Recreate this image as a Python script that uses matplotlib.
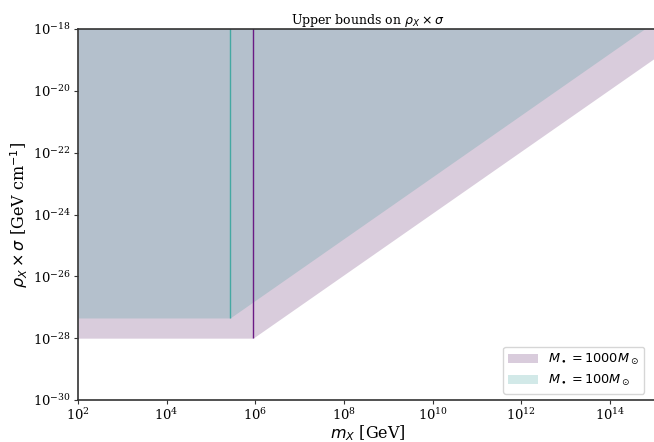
import numpy as np
import matplotlib
matplotlib.use("Agg")
import matplotlib.pyplot as plt

plt.rcParams['font.family'] = 'serif'
plt.rcParams['font.serif'] = ['DejaVu Serif']
plt.rcParams['mathtext.fontset'] = 'dejavusans'

# Data
labels = [r'$M_\bullet = 1000 M_\odot$', r'$M_\bullet = 100 M_\odot$']
colors = ['#440154', '#21918c']
line_colors = ['#6a1a84', '#45a8a2']
# mass grid [GeV] and lower bounds of excluded region
mass_1000 = [1e2, 8.9e5, 1e15]
bound_1000 = [1e-28, 1e-28, 1.12e-19]
mass_100 = [1e2, 2.7e5, 1e15]
bound_100 = [4.5e-28, 4.5e-28, 1.67e-18]
mcrit = [8.9e5, 2.7e5]
flat = [1e-28, 4.5e-28]
ytop = 1e-18
xticks = [1e2, 1e4, 1e6, 1e8, 1e10, 1e12, 1e14]
yticks = [1e-30, 1e-28, 1e-26, 1e-24, 1e-22, 1e-20, 1e-18]

fig = plt.figure(figsize=(6.54, 4.42), dpi=100)
ax = fig.add_axes([78/654, 42/442, (657-78)/654, (400-29)/442])

for m, b, c, lab in [(mass_1000, bound_1000, colors[0], labels[0]),
                     (mass_100, bound_100, colors[1], labels[1])]:
    ax.fill_between(m, b, [ytop * 10] * len(m), color=c, alpha=0.2, lw=0, label=lab)

for mc, f, c in zip(mcrit, flat, line_colors):
    ax.vlines(mc, f, ytop * 10, color=c, lw=1.0)

ax.set_xscale('log')
ax.set_yscale('log')
ax.set_xticks(xticks)
ax.set_yticks(yticks)
ax.set_xlim(1e2, 1.15e15)
ax.set_ylim(1e-30, 1e-18)
ax.set_title(r'Upper bounds on $\rho_X \times \sigma$', fontsize=9, pad=3)
ax.set_xlabel(r'$m_X$ [GeV]', fontsize=11.5, labelpad=0)
ax.set_ylabel(r'$\rho_X \times \sigma$ [GeV cm$^{-1}$]', fontsize=11.5, labelpad=2)
ax.tick_params(labelsize=9.5, length=3, width=0.8, color='#333333', pad=2)
ax.minorticks_off()
for s in ax.spines.values():
    s.set_color('#333333')
    s.set_linewidth(1.2)
ax.spines['right'].set_visible(False)
ax.legend(loc='lower right', prop={'family': 'DejaVu Sans', 'size': 9.3},
          handlelength=2.3, borderaxespad=0.5, bbox_to_anchor=(650 / 657, 0.0),
          bbox_transform=ax.transAxes)

fig.savefig('out.png', dpi=100)
